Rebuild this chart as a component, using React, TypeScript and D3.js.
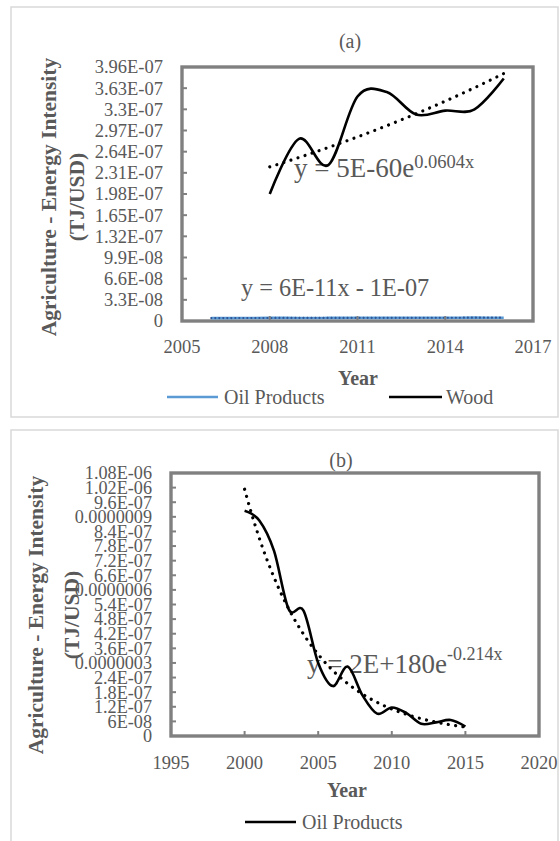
import React from "react";
import * as d3 from "d3";

// ---- data ----
const woodYears = [2008, 2009, 2010, 2011, 2012, 2013, 2014, 2015, 2016];
const woodValues = [1.98e-7, 2.84e-7, 2.43e-7, 3.5e-7, 3.57e-7, 3.22e-7, 3.28e-7, 3.3e-7, 3.78e-7];

const oilYearsA = [2006, 2007, 2008, 2009, 2010, 2011, 2012, 2013, 2014, 2015, 2016];
const oilValuesA = [4.5e-9, 4.6e-9, 4.9e-9, 4.7e-9, 4.8e-9, 5.0e-9, 4.9e-9, 5.1e-9, 5.0e-9, 5.2e-9, 5.1e-9];

const oilYearsB = [2000, 2001, 2002, 2003, 2004, 2005, 2006, 2007, 2008, 2009, 2010, 2011, 2012, 2013, 2014, 2015];
const oilValuesB = [9.25e-7, 8.85e-7, 7.6e-7, 5.2e-7, 5.15e-7, 3.0e-7, 2.05e-7, 2.85e-7, 1.68e-7, 9.2e-8, 1.17e-7, 9.4e-8, 5.0e-8, 5.6e-8, 6.6e-8, 3.9e-8];

const yTickLabelsA = ["0", "3.3E-08", "6.6E-08", "9.9E-08", "1.32E-07", "1.65E-07", "1.98E-07", "2.31E-07", "2.64E-07", "2.97E-07", "3.3E-07", "3.63E-07", "3.96E-07"];
const xTicksA = [2005, 2008, 2011, 2014, 2017];

const yTickLabelsB = ["0", "6E-08", "1.2E-07", "1.8E-07", "2.4E-07", "0.0000003", "3.6E-07", "4.2E-07", "4.8E-07", "5.4E-07", "0.0000006", "6.6E-07", "7.2E-07", "7.8E-07", "8.4E-07", "0.0000009", "9.6E-07", "1.02E-06", "1.08E-06"];
const xTicksB = [1995, 2000, 2005, 2010, 2015, 2020];

const TEXT = "#595959";
const AXIS = "#808080";
const FONT = "'Liberation Serif', 'Times New Roman', serif";

type Pt = [number, number];

function linearFit(xs: number[], ys: number[]) {
  const n = xs.length;
  const mx = d3.mean(xs)!;
  const my = d3.mean(ys)!;
  let sxy = 0, sxx = 0;
  for (let i = 0; i < n; i++) {
    sxy += (xs[i] - mx) * (ys[i] - my);
    sxx += (xs[i] - mx) * (xs[i] - mx);
  }
  const b = sxy / sxx;
  return (x: number) => my + b * (x - mx);
}

function expFit(xs: number[], ys: number[]) {
  const lf = linearFit(xs, ys.map((v) => Math.log(v)));
  return (x: number) => Math.exp(lf(x));
}

function sample(f: (x: number) => number, x0: number, x1: number, n = 60): Pt[] {
  return d3.range(n + 1).map((i) => {
    const x = x0 + ((x1 - x0) * i) / n;
    return [x, f(x)] as Pt;
  });
}

const dotted = {
  fill: "none",
  strokeWidth: 3.2,
  strokeLinecap: "round" as const,
  strokeDasharray: "0.01 7.4",
};

function PanelA() {
  const plot = { l: 182, r: 533, t: 67, b: 321 };
  const x = d3.scaleLinear().domain([2005, 2017]).range([plot.l, plot.r]);
  const y = d3.scaleLinear().domain([0, 3.96e-7]).range([plot.b, plot.t]);
  const smooth = d3.line<Pt>().x((d) => x(d[0])).y((d) => y(d[1])).curve(d3.curveCardinal.tension(0));
  const straight = d3.line<Pt>().x((d) => x(d[0])).y((d) => y(d[1]));

  const wood: Pt[] = woodYears.map((yr, i) => [yr, woodValues[i]]);
  const oil: Pt[] = oilYearsA.map((yr, i) => [yr, oilValuesA[i]]);
  const woodTrend = expFit(woodYears, woodValues);
  const oilTrend = linearFit(oilYearsA, oilValuesA);

  return (
    <g>
      <rect x={11} y={7} width={547} height={410} fill="#fff" stroke="#d9d9d9" strokeWidth={1.5} />
      <text x={350} y={48} textAnchor="middle" fontSize={20} fill={TEXT}>(a)</text>

      {/* plot frame */}
      <rect x={plot.l} y={plot.t} width={plot.r - plot.l} height={plot.b - plot.t} fill="#fff" stroke={AXIS} strokeWidth={3.4} />

      {/* axis labels */}
      {yTickLabelsA.map((lab) => (
        <text key={lab} x={163} y={y(Number(lab))} dy="0.35em" textAnchor="end" fontSize={18.5} fill={TEXT}>{lab}</text>
      ))}
      {xTicksA.map((t) => (
        <text key={t} x={x(t)} y={347} dy="0.35em" textAnchor="middle" fontSize={18.5} fill={TEXT}>{t}</text>
      ))}

      {/* axis titles */}
      <text transform="translate(56,197) rotate(-90)" textAnchor="middle" fontSize={21.5} fontWeight="bold" fill={TEXT}>Agriculture - Energy Intensity</text>
      <text transform="translate(84,197) rotate(-90)" textAnchor="middle" fontSize={21.5} fontWeight="bold" fill={TEXT}>(TJ/USD)</text>
      <text x={358} y={385} textAnchor="middle" fontSize={20} fontWeight="bold" fill={TEXT}>Year</text>

      {/* trendline equations */}
      <text x={294} y={177} fontSize={27} fill={TEXT}>
        y = 5E-60e<tspan fontSize={18.5} dy={-9}>0.0604x</tspan>
      </text>
      <text x={241} y={296} fontSize={24.3} fill={TEXT}>y = 6E-11x - 1E-07</text>

      {/* series */}
      <path d={smooth(oil)!} fill="none" stroke="#5b9bd5" strokeWidth={2.6} />
      <path d={straight(sample(oilTrend, 2006, 2016, 2))!} stroke="#2f5597" {...dotted} strokeWidth={2.2} strokeDasharray="0.01 4" />
      <path d={smooth(wood)!} fill="none" stroke="#000" strokeWidth={2.6} />
      <path d={straight(sample(woodTrend, 2008, 2016))!} stroke="#000" {...dotted} />

      {/* tick marks */}
      {yTickLabelsA.map((lab) => (
        <line key={"yt" + lab} x1={plot.l} x2={plot.l + 5} y1={y(Number(lab))} y2={y(Number(lab))} stroke={AXIS} strokeWidth={2} />
      ))}
      {xTicksA.map((t) => (
        <line key={"xt" + t} x1={x(t)} x2={x(t)} y1={plot.b} y2={plot.b - 5} stroke={AXIS} strokeWidth={2} />
      ))}

      {/* legend */}
      <line x1={167} x2={218} y1={397} y2={397} stroke="#5b9bd5" strokeWidth={2.6} />
      <text x={224} y={404} fontSize={20} fill={TEXT}>Oil Products</text>
      <line x1={389} x2={442} y1={397} y2={397} stroke="#000" strokeWidth={2.6} />
      <text x={446} y={404} fontSize={20} fill={TEXT}>Wood</text>
    </g>
  );
}

function PanelB() {
  const plot = { l: 171, r: 539, t: 473, b: 736 };
  const x = d3.scaleLinear().domain([1995, 2020]).range([plot.l, plot.r]);
  const y = d3.scaleLinear().domain([0, 1.08e-6]).range([plot.b, plot.t]);
  const smooth = d3.line<Pt>().x((d) => x(d[0])).y((d) => y(d[1])).curve(d3.curveCardinal.tension(0));
  const straight = d3.line<Pt>().x((d) => x(d[0])).y((d) => y(d[1]));

  const oil: Pt[] = oilYearsB.map((yr, i) => [yr, oilValuesB[i]]);
  const oilTrend = expFit(oilYearsB, oilValuesB);

  return (
    <g>
      <rect x={11} y={430} width={547} height={430} fill="#fff" stroke="#d9d9d9" strokeWidth={1.5} />
      <text x={341} y={467} textAnchor="middle" fontSize={20} fill={TEXT}>(b)</text>

      <rect x={plot.l} y={plot.t} width={plot.r - plot.l} height={plot.b - plot.t} fill="#fff" stroke={AXIS} strokeWidth={3.4} />

      {yTickLabelsB.map((lab) => (
        <text key={lab} x={152} y={y(Number(lab))} dy="0.35em" textAnchor="end" fontSize={18.2} fill={TEXT}>{lab}</text>
      ))}
      {xTicksB.map((t) => (
        <text key={t} x={x(t)} y={763} dy="0.35em" textAnchor="middle" fontSize={18.5} fill={TEXT}>{t}</text>
      ))}

      <text transform="translate(43,615) rotate(-90)" textAnchor="middle" fontSize={21.5} fontWeight="bold" fill={TEXT}>Agriculture - Energy Intensity</text>
      <text transform="translate(79,615) rotate(-90)" textAnchor="middle" fontSize={21.5} fontWeight="bold" fill={TEXT}>(TJ/USD)</text>
      <text x={347} y={797} textAnchor="middle" fontSize={20} fontWeight="bold" fill={TEXT}>Year</text>

      <text x={307} y={673} fontSize={27} fill={TEXT}>
        y = 2E+180e<tspan fontSize={18} dy={-13}>-0.214x</tspan>
      </text>

      <path d={smooth(oil)!} fill="none" stroke="#000" strokeWidth={2.6} />
      <path d={straight(sample(oilTrend, 2000, 2015))!} stroke="#000" {...dotted} />

      {yTickLabelsB.map((lab) => (
        <line key={"yt" + lab} x1={plot.l} x2={plot.l + 5} y1={y(Number(lab))} y2={y(Number(lab))} stroke={AXIS} strokeWidth={2} />
      ))}
      {xTicksB.map((t) => (
        <line key={"xt" + t} x1={x(t)} x2={x(t)} y1={plot.b} y2={plot.b - 5} stroke={AXIS} strokeWidth={2} />
      ))}

      <line x1={245} x2={296} y1={822} y2={822} stroke="#000" strokeWidth={2.6} />
      <text x={302} y={829} fontSize={20} fill={TEXT}>Oil Products</text>
    </g>
  );
}

export default function App() {
  return (
    <div style={{ position: "absolute", left: 0, top: 0 }}>
      <svg width={560} height={841} viewBox="0 0 560 841" fontFamily={FONT} style={{ display: "block", background: "#fff" }}>
        <rect width={560} height={841} fill="#fff" />
        <PanelA />
        <PanelB />
      </svg>
    </div>
  );
}
